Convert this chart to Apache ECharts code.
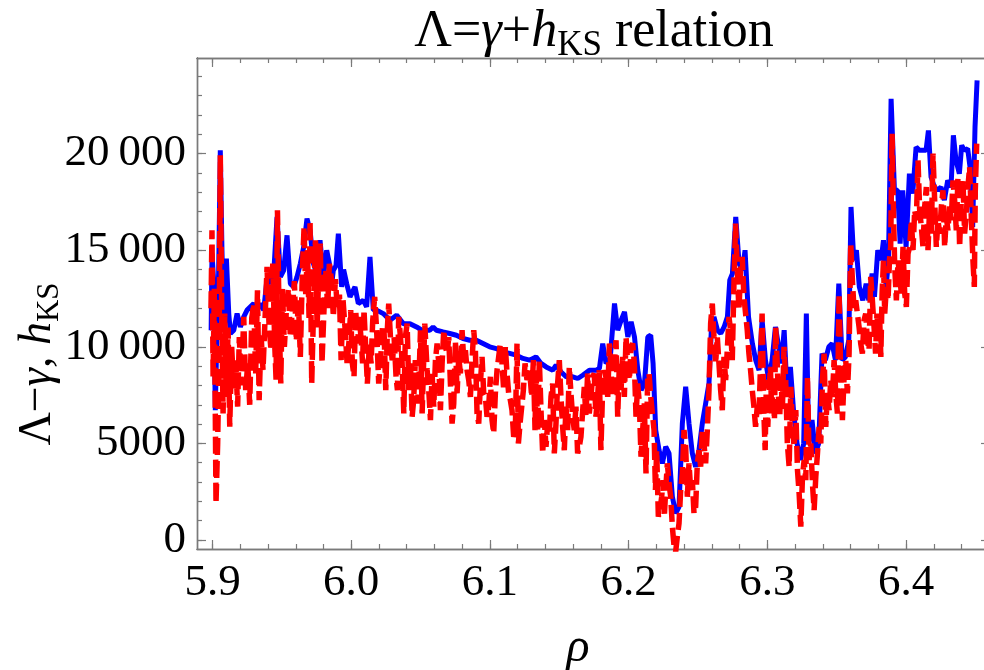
<!DOCTYPE html>
<html><head><meta charset="utf-8">
<script src="https://cdn.jsdelivr.net/npm/echarts@6/dist/echarts.min.js"></script>
<style>html,body{margin:0;padding:0;background:#fff}#c{width:984px;height:670px}</style>
</head><body><div id="c"></div>
<script>
const rhoBlue = [5.8990,5.8996,5.9008,5.9020,5.9032,5.9044,5.9056,5.9068,5.9081,5.9100,5.9117,5.9129,5.9153,5.9177,5.9201,5.9225,5.9249,5.9273,5.9297,5.9321,5.9345,5.9369,5.9393,5.9417,5.9441,5.9465,5.9489,5.9513,5.9537,5.9561,5.9585,5.9609,5.9633,5.9657,5.9681,5.9703,
5.9727,5.9751,5.9775,5.9799,5.9823,5.9847,5.9860,5.9871,5.9890,5.9907,5.9931,5.9945,5.9967,5.9991,6.0027,6.0051,6.0087,6.0111,6.0135,6.0159,6.0183,6.0231,6.0279,6.0327,6.0375,6.0423,6.0471,6.0508,
6.0566,6.0590,6.0614,6.0662,6.0710,6.0758,6.0806,6.0854,6.0902,6.0950,6.0998,6.1046,6.1094,6.1142,6.1190,6.1238,6.1286,
6.1332,6.1368,6.1405,6.1453,6.1477,6.1513,6.1549,6.1597,6.1633,6.1669,6.1717,6.1765,6.1789,6.1813,6.1837,6.1866,6.1898,6.1921,6.1946,6.1970,6.1994,6.2018,6.2042,6.2066,6.2090,6.2114,6.2138,
6.2159,6.2176,6.2195,6.2219,6.2243,6.2267,6.2291,6.2315,6.2339,6.2363,6.2387,6.2411,6.2435,6.2459,6.2483,6.2507,6.2531,6.2555,6.2579,6.2596,6.2615,6.2640,6.2664,6.2688,6.2712,6.2729,6.2748,6.2772,6.2796,6.2820,6.2839,6.2864,6.2892,6.2916,6.2940,
6.2962,6.2986,6.3010,6.3034,6.3058,6.3082,6.3101,6.3121,6.3142,6.3166,6.3190,6.3214,6.3238,6.3262,6.3281,6.3298,6.3322,6.3346,6.3370,6.3394,6.3418,6.3443,6.3467,6.3491,6.3515,6.3539,6.3563,6.3587,6.3603,6.3623,6.3642,6.3663,6.3688,6.3712,6.3731,6.3755,
6.3772,6.3796,6.3820,6.3837,6.3856,6.3873,6.3892,6.3916,6.3940,6.3957,6.3976,6.4000,6.4024,6.4048,6.4072,6.4096,6.4120,6.4144,6.4161,6.4180,6.4204,6.4228,6.4252,6.4276,6.4300,6.4324,6.4341,6.4360,6.4384,6.4401,6.4420,6.4444,6.4461,6.4480,6.4497,6.4512];
const blue = [10860,14830,13450,6720,10860,13800,20170,15000,10860,14570,11720,10690,10860,11720,11030,11550,11900,12070,12240,11900,12240,11900,13530,13270,13790,16720,13620,13960,15770,13270,13100,13620,14310,15170,16640,16030,
14310,13800,15520,13620,15000,14140,13300,13960,14200,15860,13100,14000,13270,12590,13100,12240,12410,12070,14650,11900,11900,11720,11380,11640,11200,11200,11030,10860,
10860,11030,10860,10770,10690,10600,10430,10340,10340,10170,10000,9910,9740,9660,9570,9400,9310,
9480,9140,8960,8790,9050,8700,8450,8450,8360,8530,8790,8790,8880,10170,9140,9310,12240,10860,11380,11810,10510,11290,10510,8790,7760,8100,10510,
10600,9140,5690,4650,3960,4830,4480,2240,1380,1720,6030,7930,6030,4480,3790,4650,6030,7070,8100,10860,11550,10860,10690,11030,11550,13450,13790,16720,14310,13960,15000,11550,10170,9310,8790,
11400,9310,8280,9310,11030,10000,9140,10860,7590,8960,6550,5000,4140,5000,11720,5000,6210,4480,5000,9650,9310,10000,10170,9310,13270,9310,9480,10340,17240,14480,15000,13100,12410,13270,12410,13790,
12590,15000,14480,15520,13100,14480,22840,18100,18100,15340,18100,15170,18960,17930,20340,20170,20170,20170,21200,18790,18270,18100,18270,17590,18620,18270,20950,19650,18960,20430,20170,20260,19310,16210,21380,23790];

const rhoRed = [5.8989,5.8996,5.9004,5.9013,5.9025,5.9037,5.9047,5.9056,5.9066,5.9076,5.9088,5.9100,5.9112,5.9124,5.9138,5.9153,5.9167,5.9181,5.9193,5.9208,5.9225,5.9239,5.9254,5.9268,5.9283,5.9297,5.9311,5.9324,5.9336,5.9350,5.9364,5.9381,5.9393,5.9408,5.9422,5.9434,5.9449,5.9458,5.9468,5.9480,5.9492,5.9504,5.9518,5.9533,5.9547,5.9561,5.9576,5.9590,5.9604,5.9619,5.9633,5.9648,5.9660,5.9672,5.9684,5.9696,
5.9703,5.9715,5.9732,5.9742,5.9754,5.9766,5.9777,5.9789,5.9804,5.9816,5.9830,5.9842,5.9857,5.9871,5.9886,5.9900,5.9915,5.9927,5.9941,5.9955,5.9970,5.9984,5.9996,6.0008,6.0020,6.0032,6.0046,6.0058,6.0070,6.0082,6.0092,6.0104,6.0116,6.0131,6.0143,6.0155,6.0169,6.0183,6.0198,6.0213,6.0225,6.0237,6.0249,6.0261,6.0270,6.0285,6.0297,6.0309,6.0323,6.0333,6.0342,6.0355,6.0366,6.0379,6.0390,6.0403,6.0415,6.0427,6.0439,6.0450,6.0462,6.0474,6.0486,6.0499,6.0511,
6.0530,6.0547,6.0561,6.0571,6.0583,6.0595,6.0607,6.0619,6.0631,6.0643,6.0655,6.0667,6.0679,6.0691,6.0703,6.0715,6.0727,6.0739,6.0751,6.0763,6.0775,6.0787,6.0799,6.0811,6.0823,6.0835,6.0847,6.0859,6.0871,6.0883,6.0895,6.0907,6.0919,6.0931,6.0943,6.0955,6.0967,6.0979,6.0991,6.1003,6.1015,6.1027,6.1039,6.1051,6.1063,6.1075,6.1087,6.1099,6.1111,6.1123,6.1135,6.1147,6.1159,6.1171,6.1183,6.1195,6.1205,6.1217,6.1229,6.1241,6.1253,6.1267,6.1286,6.1301,6.1313,6.1325,
6.1332,6.1344,6.1356,6.1368,6.1380,6.1392,6.1404,6.1416,6.1428,6.1440,6.1452,6.1464,6.1476,6.1488,6.1500,6.1512,6.1524,6.1536,6.1548,6.1560,6.1572,6.1584,6.1596,6.1608,6.1620,6.1632,6.1644,6.1656,6.1668,6.1680,6.1692,6.1704,6.1716,6.1728,6.1740,6.1752,6.1764,6.1776,6.1788,6.1800,6.1812,6.1824,6.1836,6.1849,6.1861,6.1873,6.1885,6.1897,6.1909,6.1921,6.1933,6.1945,6.1957,6.1969,6.1981,6.1993,6.2005,6.2017,6.2029,6.2041,6.2053,6.2065,6.2077,6.2089,6.2101,6.2113,6.2125,6.2137,
6.2147,6.2159,6.2171,6.2183,6.2193,6.2202,6.2214,6.2226,6.2238,6.2248,6.2257,6.2267,6.2279,6.2291,6.2303,6.2315,6.2327,6.2339,6.2351,6.2363,6.2375,6.2387,6.2399,6.2411,6.2423,6.2435,6.2447,6.2459,6.2471,6.2483,6.2495,6.2507,6.2519,6.2531,6.2543,6.2555,6.2567,6.2579,6.2591,6.2603,6.2615,6.2627,6.2639,6.2651,6.2663,6.2675,6.2687,6.2699,6.2711,6.2723,6.2735,6.2747,6.2759,6.2771,6.2783,6.2795,6.2807,6.2819,6.2831,6.2843,6.2855,6.2867,6.2879,6.2891,6.2903,6.2915,6.2927,6.2939,6.2951,
6.2962,6.2974,6.2984,6.2993,6.3003,6.3012,6.3022,6.3031,6.3041,6.3051,6.3060,6.3070,6.3079,6.3089,6.3099,6.3108,6.3120,6.3132,6.3144,6.3157,6.3169,6.3181,6.3193,6.3205,6.3217,6.3229,6.3241,6.3253,6.3265,6.3277,6.3289,6.3301,6.3313,6.3325,6.3337,6.3349,6.3361,6.3373,6.3385,6.3397,6.3409,6.3421,6.3433,6.3445,6.3457,6.3469,6.3481,6.3493,6.3505,6.3517,6.3529,6.3541,6.3553,6.3565,6.3577,6.3589,6.3601,6.3613,6.3625,6.3637,6.3649,6.3661,6.3673,6.3685,6.3697,6.3709,6.3721,6.3733,6.3745,6.3757,6.3769,
6.3780,6.3790,6.3800,6.3810,6.3818,6.3827,6.3837,6.3846,6.3858,6.3870,6.3880,6.3889,6.3899,6.3909,6.3918,6.3930,6.3942,6.3954,6.3966,6.3978,6.3990,6.4002,6.4014,6.4026,6.4038,6.4050,6.4062,6.4074,6.4086,6.4098,6.4110,6.4122,6.4134,6.4146,6.4158,6.4170,6.4182,6.4194,6.4206,6.4218,6.4230,6.4242,6.4254,6.4266,6.4278,6.4290,6.4302,6.4314,6.4326,6.4338,6.4350,6.4362,6.4374,6.4386,6.4398,6.4410,6.4422,6.4434,6.4446,6.4458,6.4470,6.4482,6.4492,6.4499,6.4509];
const red = [12000,16030,8450,13000,1900,5000,9500,19910,12000,6550,11720,7400,11000,5860,10000,7760,9300,6900,10510,8000,11550,7760,9140,7000,11500,12240,8600,12930,7240,10600,8800,11900,14140,11000,9800,14310,10000,8300,17070,11500,8100,13000,10000,12000,13000,10500,12000,13400,10300,12400,9480,14000,16210,12700,15000,11500,
16550,8100,13000,15520,11000,14000,15340,9140,12000,14000,12000,14300,13500,11550,13500,11900,12700,9310,12410,11000,9140,10300,11900,9140,8450,11900,10170,11550,10500,9140,11900,10000,8100,10170,9140,11380,12590,10860,8100,9480,11000,10690,7760,11000,12240,10170,9140,10500,8450,7760,11550,10500,9310,6550,10500,11200,7760,9140,6380,7240,9310,7070,7760,10860,6550,
11200,8800,7500,6210,8600,6900,9300,10170,9140,6720,9140,10860,10000,9650,10500,8100,6030,7070,10300,7590,9480,8620,10860,9310,9830,8790,8280,7410,9310,10860,9830,6550,6030,8100,9480,7590,7410,6380,6900,8450,6210,5520,7590,8790,9480,10170,9140,7760,10000,8620,7590,7240,6720,5340,5690,10170,5000,6030,6900,7760,9140,8280,8790,7410,9310,5690,
8790,5690,9310,6720,4480,6210,4830,6030,5520,7410,8100,4480,6030,8100,9310,7410,5860,4650,6900,5690,8960,7590,6380,5690,6900,4480,4830,5340,5340,7930,6380,8620,6550,7410,8450,8620,6380,7410,8790,4650,7760,8790,8450,7410,10170,8790,7410,9140,10340,6380,9140,7760,9480,7410,10510,9140,8280,10000,10170,9140,6380,8100,7070,4310,5690,7070,3450,8450,
8620,7410,6550,5690,2590,4650,1210,1550,2240,3100,1210,2590,3970,2930,2240,690,-300,-600,200,860,2590,3450,5690,4830,2240,3970,2590,3100,1380,1720,3970,4650,3800,5690,5000,3970,5690,7760,11210,12240,10510,9140,10510,9140,7760,6720,9480,8280,9830,11550,10860,9310,13270,16380,13960,11900,13960,14650,12590,11720,10860,9650,8790,7760,6900,5860,6900,6380,9140,
11720,6720,4650,8280,5860,7590,8960,6550,8100,6210,11030,9310,7590,6380,8280,6720,10000,8280,5000,3790,7930,5860,4830,6720,3620,2410,690,3270,4140,3100,8450,4140,5000,2930,1550,3270,4480,5860,5000,8280,9650,5860,7590,6720,8280,7410,9310,7590,6550,12760,8450,6210,8450,9310,7590,9650,15340,13440,11900,12410,11720,11030,10170,9650,11380,11720,10340,9830,13620,12410,11030,
9650,11720,10510,11380,9480,12760,14480,11720,13100,12410,14480,15170,21030,17070,14140,12410,14480,13620,12760,15170,12760,12070,14830,15170,16550,15000,17070,16550,19650,17070,16210,15170,17240,18270,15000,17240,15860,20000,17590,15170,16550,15860,17240,18100,15170,16720,16030,17410,16550,18620,17590,16030,18790,15170,17590,18620,15860,16890,18270,19310,16720,14480,13100,18100,20520,22330];

const xMajor = [5.9, 6.0, 6.1, 6.2, 6.3, 6.4];
const xMinor = [5.90,5.92,5.94,5.96,5.98,6.00,6.02,6.04,6.06,6.08,6.10,6.12,6.14,6.16,6.18,6.20,6.22,6.24,6.26,6.28,6.30,6.32,6.34,6.36,6.38,6.40,6.42,6.44,6.46];
const yMajor = [0, 5000, 10000, 15000, 20000];
const yTickLabels = ['0', '5000', '10\u2009000', '15\u2009000', '20\u2009000'];
const yMinor = [0,1000,2000,3000,4000,5000,6000,7000,8000,9000,10000,11000,12000,13000,14000,15000,16000,17000,18000,19000,20000,21000,22000,23000,24000];

const XMIN = 5.8888, XMAX = 6.4605, YMIN = -465, YMAX = 24950;
const FRAME = '#7a7a7a';
const SERIF = "'Liberation Serif','DejaVu Serif',serif";

function xAx(pos, major, withLabel) {
  return {
    type: 'value', min: XMIN, max: XMAX, position: pos,
    axisLine: { show: true, onZero: false, lineStyle: { color: FRAME, width: 1.4 } },
    axisTick: { show: true, inside: true, length: major ? 9 : 5, customValues: major ? xMajor : xMinor, lineStyle: { color: FRAME, width: 1.2 } },
    axisLabel: withLabel ? { show: true, customValues: xMajor, formatter: v => Number(v).toFixed(1), margin: 12, fontSize: 45, fontFamily: SERIF, color: '#000' } : { show: false },
    splitLine: { show: false }
  };
}
function yAx(pos, major, withLabel) {
  return {
    type: 'value', min: YMIN, max: YMAX, position: pos,
    axisLine: { show: true, onZero: false, lineStyle: { color: FRAME, width: 1.4 } },
    axisTick: { show: true, inside: true, length: major ? 9 : 5, customValues: major ? yMajor : yMinor, lineStyle: { color: FRAME, width: 1.2 } },
    axisLabel: withLabel ? { show: true, customValues: yMajor, formatter: v => yTickLabels[yMajor.indexOf(Math.round(v))], margin: 11, fontSize: 45, fontFamily: SERIF, color: '#000' } : { show: false },
    splitLine: { show: false }
  };
}

const chart = echarts.init(document.getElementById('c'), null, { renderer: 'canvas' });
const zip = (xs, ys) => xs.map((x, i) => [x, ys[i]]);
chart.setOption({
  animation: false,
  backgroundColor: '#fff',
  grid: { left: 197, top: 58, width: 793, height: 491, containLabel: false, outerBoundsMode: 'none' },
  xAxis: [xAx('bottom', true, true), xAx('bottom', false, false), xAx('top', true, false), xAx('top', false, false)],
  yAxis: [yAx('left', true, true), yAx('left', false, false), yAx('right', true, false), yAx('right', false, false)],
  series: [
    { type: 'line', xAxisIndex: 0, yAxisIndex: 0, data: zip(rhoBlue, blue), showSymbol: false, symbol: 'none', silent: true,
      lineStyle: { color: '#0000ff', width: 5 }, z: 2 },
    { type: 'line', xAxisIndex: 0, yAxisIndex: 0, data: zip(rhoRed, red), showSymbol: false, symbol: 'none', silent: true,
      lineStyle: { color: '#ff0000', width: 5.5, type: [17, 6] }, z: 3 }
  ],
  graphic: [
    { type: 'text', x: 594, y: 32, silent: true,
      style: { text: '{a|Λ=}{i|γ}{a|+}{i|h}{s|KS}{a| relation}', align: 'center', verticalAlign: 'middle',
        rich: {
          a: { fontSize: 52, fontFamily: SERIF, color: '#000' },
          i: { fontSize: 52, fontFamily: SERIF, fontStyle: 'italic', color: '#000' },
          s: { fontSize: 35, fontFamily: SERIF, color: '#000', padding: [27, 0, 0, 0] }
        } } },
    { type: 'text', x: 38, y: 364, rotation: Math.PI / 2, silent: true,
      style: { text: '{a|Λ−}{i|γ}{a|, }{i|h}{s|KS}', align: 'center', verticalAlign: 'middle',
        rich: {
          a: { fontSize: 46, fontFamily: SERIF, color: '#000' },
          i: { fontSize: 46, fontFamily: SERIF, fontStyle: 'italic', color: '#000' },
          s: { fontSize: 31, fontFamily: SERIF, color: '#000', padding: [24, 0, 0, 0] }
        } } },
    { type: 'text', x: 578, y: 648, silent: true,
      style: { text: 'ρ', align: 'center', verticalAlign: 'middle', fontSize: 48, fontFamily: SERIF, fontStyle: 'italic', fill: '#000' } }
  ]
});
</script></body></html>
